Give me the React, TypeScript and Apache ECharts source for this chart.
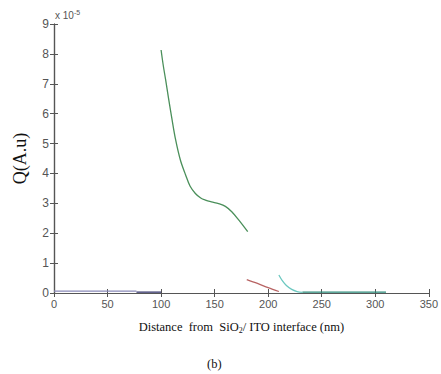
import React, { useEffect, useRef } from "react";
import * as echarts from "echarts";

const xTicks = [0, 50, 100, 150, 200, 250, 300, 350];
const yTicks = [0, 1, 2, 3, 4, 5, 6, 7, 8, 9];

const greenCurve: [number, number][] = [
  [100, 8.13], [102, 7.62], [104.3, 7.12], [107, 6.5], [110, 5.85], [113.6, 5.12], [118, 4.45],
  [122.9, 3.95], [127, 3.58], [132, 3.33], [137, 3.18], [141.4, 3.11], [147, 3.05],
  [153.7, 2.99], [160, 2.9], [166, 2.72], [173, 2.42], [180.9, 2.05],
];
const redCurve: [number, number][] = [[180, 0.45], [190, 0.32], [200, 0.18], [210, 0.05]];
const cyanCurve: [number, number][] = [
  [210, 0.6], [213, 0.42], [217, 0.25], [222, 0.12], [227, 0.05], [232, 0.02],
];
const tealCurve: [number, number][] = [[232, 0.03], [310, 0.03]];
const purpleCurve: [number, number][] = [[0, 0.06], [77, 0.06]];
const navyCurve: [number, number][] = [[77, 0.03], [100, 0.03]];

export default function App() {
  const ref = useRef<HTMLDivElement>(null);
  useEffect(() => {
    const chart = echarts.init(ref.current!, null, { renderer: "svg" });
    const axisColor = "#555";
    const labelStyle = { color: "#555", fontFamily: "Liberation Sans, Arial", fontSize: 11 };
    const line = (data: [number, number][], color: string, smooth: boolean | number = 0.35) => ({
      type: "line",
      data,
      smooth,
      showSymbol: false,
      lineStyle: { color, width: 1.3 },
      itemStyle: { color },
    });
    chart.setOption({
      animation: false,
      backgroundColor: "#fff",
      grid: { left: 54, right: 9, top: 24, bottom: 81 },
      xAxis: [
        {
          type: "value",
          min: 0,
          max: 350,
          interval: 50,
          axisLine: { lineStyle: { color: axisColor, width: 1.2 } },
          axisTick: { inside: true, length: 4, lineStyle: { color: axisColor } },
          axisLabel: { ...labelStyle, margin: 5, showMinLabel: true, showMaxLabel: true },
          splitLine: { show: false },
          name: "Distance  from  SiO{sub|2}/ ITO interface (nm)",
          nameLocation: "middle",
          nameGap: 27,
          nameTextStyle: {
            color: "#111",
            fontFamily: "Liberation Serif, Times New Roman, serif",
            fontSize: 12.5,
            rich: {
              sub: {
                fontSize: 8,
                verticalAlign: "bottom",
                padding: [6, 0, 0, 0],
                color: "#111",
                fontFamily: "Liberation Serif, serif",
              },
            },
          },
        },
        {
          type: "value",
          position: "top",
          min: 0,
          max: 350,
          interval: 50,
          axisLine: { show: true, lineStyle: { color: axisColor, width: 1.2 } },
          axisTick: { show: true, inside: true, length: 4, lineStyle: { color: axisColor } },
          axisLabel: { show: false },
          splitLine: { show: false },
        },
      ],
      yAxis: [
        {
          type: "value",
          min: 0,
          max: 9,
          interval: 1,
          axisLine: { show: true, lineStyle: { color: axisColor, width: 1.2 } },
          axisTick: { show: true, inside: true, length: 4, lineStyle: { color: axisColor } },
          axisLabel: { ...labelStyle, fontSize: 12, margin: 5 },
          splitLine: { show: false },
          name: "Q(A.u)",
          nameLocation: "middle",
          nameGap: 25,
          nameTextStyle: {
            color: "#111",
            fontFamily: "Liberation Serif, Times New Roman, serif",
            fontSize: 18,
          },
        },
        {
          type: "value",
          position: "right",
          min: 0,
          max: 9,
          interval: 1,
          axisLine: { show: true, lineStyle: { color: axisColor, width: 1.2 } },
          axisTick: { show: true, inside: true, length: 4, lineStyle: { color: axisColor } },
          axisLabel: { show: false },
          splitLine: { show: false },
        },
      ],
      graphic: [
        {
          type: "text",
          left: 55,
          top: 9,
          style: {
            text: "x 10{sup|-5}",
            fill: "#555",
            font: "10px Liberation Sans, Arial",
            rich: { sup: { fontSize: 7, verticalAlign: "top", padding: [0, 0, 6, 0], fill: "#555" } },
          },
        },
        {
          type: "text",
          left: 207,
          top: 357,
          style: { text: "(b)", fill: "#111", font: "12.5px Liberation Serif, serif" },
        },
      ],
      series: [
        line(purpleCurve, "#8a8ab8", false),
        line(navyCurve, "#2e2e66", false),
        line(greenCurve, "#4a8f5a"),
        line(redCurve, "#b86464"),
        line(cyanCurve, "#6cc8c0"),
        line(tealCurve, "#2a8a78", false),
      ],
    });
    return () => chart.dispose();
  }, []);
  return <div ref={ref} style={{ width: 441, height: 374, position: "absolute", left: 0, top: 0 }} />;
}
